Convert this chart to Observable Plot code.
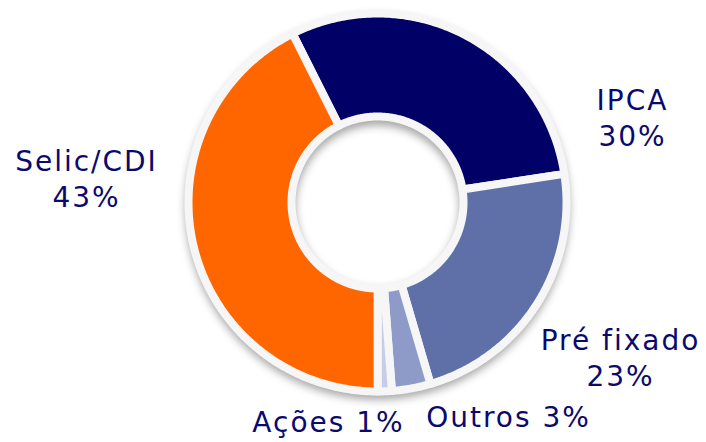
<!DOCTYPE html>
<html><head><meta charset="utf-8">
<script src="https://cdn.jsdelivr.net/npm/d3@7"></script>
<script src="https://cdn.jsdelivr.net/npm/@observablehq/plot@0.6"></script>
<style>
body{margin:0;background:#fff}
#chart svg text{letter-spacing:2px}
</style>
</head><body><div id="chart"></div>
<script>
// ---- data ----
const categories = ["IPCA", "Pré fixado", "Outros", "Ações", "Selic/CDI"];
const shares = [30.0, 22.9, 3.3, 1.2, 42.6];
const percentLabels = ["30%", "23%", "3%", "1%", "43%"];
const twoLineLabel = [true, true, false, false, true];

// ---- style / layout ----
const sliceColors = ["#000066", "#5f6fa8", "#8e9bc8", "#c8cde6", "#ff6600"];
const W = 706, H = 442;
const cx = 377, cy = 202, R = 189, r0 = 86;
const startDeg = -26.7;
const labelOffsets = {
  "IPCA": [255, -86], "Pré fixado": [243, 154], "Outros": [131, 213],
  "Ações": [-49, 218], "Selic/CDI": [-291, -25]
};

const rows = categories.map((c, i) => ({category: c, share: shares[i], pct: percentLabels[i], two: twoLineLabel[i]}));
const a0 = startDeg * Math.PI / 180;
const arcs = d3.pie().sort(null).value(d => d.share).startAngle(a0).endAngle(a0 + 2 * Math.PI)(rows);

const pt = (a, rad) => [cx + rad * Math.sin(a), cy - rad * Math.cos(a)];
function ringCoords(s, e, ro, ri) {
  const n = Math.max(2, Math.ceil((e - s) / 0.01));
  const outer = [], inner = [];
  for (let k = 0; k <= n; k++) { const a = s + (e - s) * k / n; outer.push(pt(a, ro)); inner.push(pt(a, ri)); }
  inner.reverse();
  return [...outer, ...inner, outer[0]];
}
const slices = arcs.map(a => ({
  type: "Feature",
  properties: {category: a.data.category},
  geometry: {type: "Polygon", coordinates: [ringCoords(a.startAngle, a.endAngle, R, r0)]}
}));
const shadow = [{
  type: "Feature", properties: {},
  geometry: {type: "Polygon", coordinates: [ringCoords(0, 2 * Math.PI, R + 3, r0 - 4)]}
}];
const labels = rows.map(d => ({
  text: d.two ? `${d.category}\n${d.pct}` : `${d.category} ${d.pct}`,
  x: cx + labelOffsets[d.category][0],
  y: cy + labelOffsets[d.category][1]
}));

const chart = Plot.plot({
  width: W, height: H, margin: 0,
  projection: "identity",
  x: {domain: [0, W], range: [0, W], axis: null},
  y: {domain: [0, H], range: [0, H], axis: null},
  color: {domain: categories, range: sliceColors},
  style: {background: "#fff"},
  marks: [
    Plot.geo(shadow, {fill: "#000", fillOpacity: 0.35, dy: 5}),
    Plot.geo(slices, {fill: d => d.properties.category, stroke: "#f6f6f6", strokeWidth: 8}),
    Plot.text(labels, {x: "x", y: "y", text: "text", fill: "#0a0a6e", fontSize: 28,
      fontFamily: "DejaVu Sans, Verdana, sans-serif", lineHeight: 1.29})
  ]
});
document.getElementById("chart").append(chart);

// soft blur for the drop shadow
const svg = d3.select(chart.tagName.toLowerCase() === "svg" ? chart : chart.querySelector("svg"));
const defs = svg.insert("defs", ":first-child");
defs.append("filter").attr("id", "soft").attr("x", "-20%").attr("y", "-20%").attr("width", "140%").attr("height", "140%")
  .append("feGaussianBlur").attr("stdDeviation", 4);
svg.select('g[aria-label="geo"]').attr("filter", "url(#soft)");
</script>
</body></html>
